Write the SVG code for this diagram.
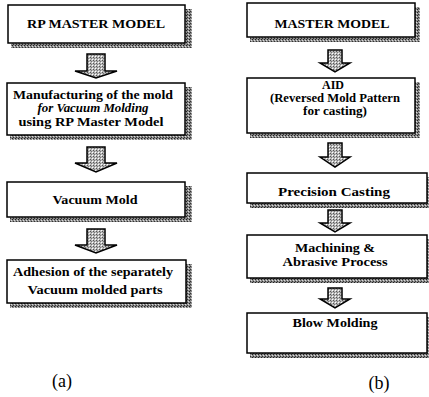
<svg xmlns="http://www.w3.org/2000/svg" width="429" height="397" viewBox="0 0 429 397">
<defs>
<pattern id="stip" width="3" height="3" patternUnits="userSpaceOnUse">
<rect width="3" height="3" fill="#8a8a8a"/>
<rect x="0" y="0" width="1" height="1" fill="#222"/>
<rect x="2" y="1" width="1" height="1" fill="#ddd"/>
<rect x="1" y="2" width="1" height="1" fill="#333"/>
</pattern>
<pattern id="light" width="3" height="3" patternUnits="userSpaceOnUse">
<rect width="3" height="3" fill="#b8b8b8"/>
<rect x="0" y="0" width="1" height="1" fill="#555"/>
<rect x="2" y="2" width="1" height="1" fill="#fff"/>
<rect x="1" y="1" width="1" height="1" fill="#777"/>
</pattern>
</defs>
<style>
.box{fill:#fff;stroke:#000;stroke-width:1.5}
.sh{fill:url(#stip)}
.arr{fill:url(#light);stroke:#000;stroke-width:1.5;stroke-linejoin:miter}
text{font-family:'Liberation Serif','Times New Roman',Times,serif}
.t{font-weight:bold;font-size:12px;fill:#000;text-anchor:middle}
.i{font-style:italic}
.lab{font-size:18px;fill:#000;text-anchor:middle}
</style>
<g id="connectors">
<polygon class="arr" points="87,54 105,54 105,71 117,71 96,78 75,71 87,71"/>
<polygon class="arr" points="87,147 105,147 105,163 117,163 96,172 75,163 87,163"/>
<polygon class="arr" points="87,229 105,229 105,245 117,245 96,253 75,245 87,245"/>
<polygon class="arr" points="328,50 342,50 342,63 350,63 335,72 320,63 328,63"/>
<polygon class="arr" points="328,143 342,143 342,157 350,157 335,167 320,157 328,157"/>
<polygon class="arr" points="328,210 342,210 342,223 350,223 335,232 320,223 328,223"/>
<polygon class="arr" points="328,288 342,288 342,299 350,299 335,308 320,299 328,299"/>
</g>
<g id="a1">
<path class="sh" d="M185,9 H192 V48 H11 V43 H185 Z"/>
<rect class="box" x="8" y="5" width="177" height="38"/>
<text class="t" x="96" y="28" font-size="13" textLength="138" lengthAdjust="spacingAndGlyphs">RP MASTER MODEL</text>
</g>
<g id="a2">
<path class="sh" d="M185,87 H192 V140 H10 V135 H185 Z"/>
<rect class="box" x="7" y="83" width="178" height="52"/>
<text class="t" x="93" y="99" textLength="160" lengthAdjust="spacingAndGlyphs">Manufacturing of the mold</text>
<text class="t i" x="93" y="112" textLength="111" lengthAdjust="spacingAndGlyphs">for Vacuum Molding</text>
<text class="t" x="91" y="126" textLength="145" lengthAdjust="spacingAndGlyphs">using RP Master Model</text>
</g>
<g id="a3">
<path class="sh" d="M185,186 H192 V222 H10 V217 H185 Z"/>
<rect class="box" x="7" y="182" width="178" height="35"/>
<text class="t" x="95" y="204" textLength="85" lengthAdjust="spacingAndGlyphs">Vacuum Mold</text>
</g>
<g id="a4">
<path class="sh" d="M186,264 H192 V308 H10 V303 H186 Z"/>
<rect class="box" x="7" y="260" width="179" height="43"/>
<text class="t" x="93" y="276" textLength="160" lengthAdjust="spacingAndGlyphs">Adhesion of the separately</text>
<text class="t" x="95" y="294" textLength="135" lengthAdjust="spacingAndGlyphs">Vacuum molded parts</text>
</g>
<g id="b1">
<path class="sh" d="M415,7 H420 V42 H250 V37 H415 Z"/>
<rect class="box" x="247" y="3" width="168" height="34"/>
<text class="t" x="332" y="28" font-size="13" textLength="115" lengthAdjust="spacingAndGlyphs">MASTER MODEL</text>
</g>
<g id="b2">
<path class="sh" d="M415,82 H420 V138 H250 V133 H415 Z"/>
<rect class="box" x="247" y="78" width="168" height="55"/>
<text class="t" x="333" y="89" font-size="11">AID</text>
<text class="t" x="335" y="102" font-size="11" textLength="130" lengthAdjust="spacingAndGlyphs">(Reversed Mold Pattern</text>
<text class="t" x="335" y="115" font-size="11" textLength="64" lengthAdjust="spacingAndGlyphs">for casting)</text>
</g>
<g id="b3">
<path class="sh" d="M427,177 H429 V208 H250 V203 H427 Z"/>
<rect class="box" x="247" y="173" width="180" height="30"/>
<text class="t" x="334" y="196" textLength="112" lengthAdjust="spacingAndGlyphs">Precision Casting</text>
</g>
<g id="b4">
<path class="sh" d="M427,239 H429 V283 H250 V278 H427 Z"/>
<rect class="box" x="247" y="235" width="180" height="43"/>
<text class="t" x="335" y="252" textLength="80" lengthAdjust="spacingAndGlyphs">Machining &amp;</text>
<text class="t" x="335" y="266" textLength="105" lengthAdjust="spacingAndGlyphs">Abrasive Process</text>
</g>
<g id="b5">
<path class="sh" d="M427,317 H429 V358 H250 V353 H427 Z"/>
<rect class="box" x="247" y="313" width="180" height="40"/>
<text class="t" x="335" y="327" textLength="85" lengthAdjust="spacingAndGlyphs">Blow Molding</text>
</g>
<text class="lab" x="62" y="387">(a)</text>
<text class="lab" x="379" y="389">(b)</text>
</svg>
